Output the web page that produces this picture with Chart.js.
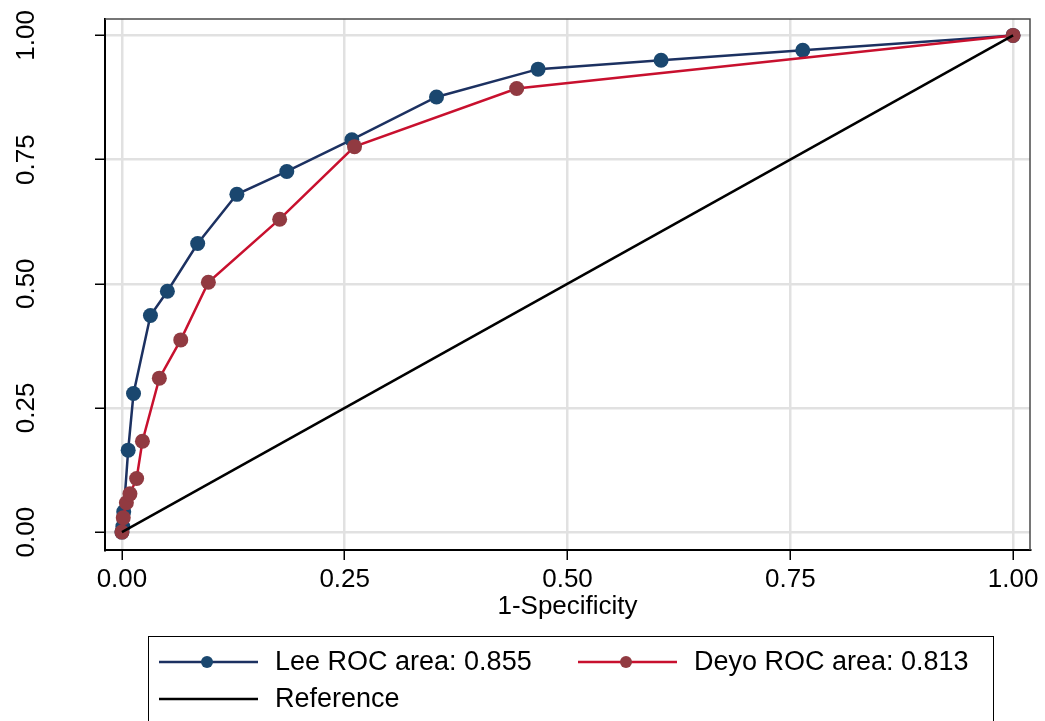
<!DOCTYPE html>
<html>
<head>
<meta charset="utf-8">
<script src="https://cdn.jsdelivr.net/npm/chart.js@4.4.0/dist/chart.umd.min.js"></script>
<style>
    body { margin: 0; background: #fff; }
    #wrap { width: 1045px; height: 721px; }
</style>
</head>
<body>
<div id="wrap"><canvas id="roc" width="1045" height="721"></canvas></div>
<script>
// ROC points (x = 1-specificity, y = sensitivity)
const leeX = [0, 0.001, 0.002, 0.007, 0.013, 0.032, 0.051, 0.085, 0.129, 0.185, 0.258, 0.353, 0.467, 0.605, 0.764, 1];
const leeY = [0, 0.011, 0.041, 0.165, 0.279, 0.436, 0.485, 0.581, 0.680, 0.726, 0.790, 0.876, 0.932, 0.950, 0.970, 1];
const deyoX = [0, 0.0015, 0.005, 0.009, 0.0165, 0.023, 0.042, 0.066, 0.097, 0.177, 0.261, 0.443, 1];
const deyoY = [0, 0.029, 0.059, 0.077, 0.108, 0.183, 0.310, 0.387, 0.503, 0.630, 0.776, 0.893, 1];
const refX = [0, 1];
const refY = [0, 1];

const xTicks = [0, 0.25, 0.5, 0.75, 1];
const yTicks = [0, 0.25, 0.5, 0.75, 1];
const seriesLabels = ['Lee ROC area: 0.855', 'Deyo ROC area: 0.813', 'Reference'];
const xTitle = '1-Specificity';

const FONT = 'Liberation Sans, Arial, sans-serif';

function toPoints(xs, ys) {
    return xs.map((x, i) => ({ x: x, y: ys[i] }));
}

// y tick labels are drawn turned 90 degrees, centred on each tick
const yLabelPlugin = {
    id: 'yLabels',
    afterDraw(chart) {
        const ctx = chart.ctx;
        const y = chart.scales.y;
        ctx.save();
        ctx.fillStyle = '#000';
        ctx.font = '26px ' + FONT;
        ctx.textAlign = 'center';
        ctx.textBaseline = 'alphabetic';
        yTicks.forEach(v => {
            ctx.save();
            ctx.translate(34, y.getPixelForValue(v));
            ctx.rotate(-Math.PI / 2);
            ctx.fillText(v.toFixed(2), 0, 0);
            ctx.restore();
        });
        ctx.restore();
    }
};

// top and right edges of the plot box
const framePlugin = {
    id: 'frame',
    afterDraw(chart) {
        const a = chart.chartArea;
        const ctx = chart.ctx;
        ctx.save();
        ctx.strokeStyle = '#4a4a4a';
        ctx.lineWidth = 1.5;
        ctx.beginPath();
        ctx.moveTo(a.left, a.top);
        ctx.lineTo(a.right, a.top);
        ctx.lineTo(a.right, a.bottom);
        ctx.stroke();
        ctx.restore();
    }
};

// boxed legend under the plot, two columns
const legendPlugin = {
    id: 'boxLegend',
    afterDraw(chart) {
        const ctx = chart.ctx;
        const sets = chart.data.datasets;
        const slots = [
            { x: 159, y: 662 },
            { x: 578, y: 662 },
            { x: 159, y: 699 }
        ];
        ctx.save();
        ctx.strokeStyle = '#000';
        ctx.lineWidth = 1;
        ctx.strokeRect(148.5, 636.5, 845, 100);

        ctx.font = '27px ' + FONT;
        ctx.textBaseline = 'middle';
        ctx.textAlign = 'left';
        sets.forEach((ds, i) => {
            const s = slots[i];
            ctx.strokeStyle = ds.borderColor;
            ctx.lineWidth = ds.borderWidth;
            ctx.beginPath();
            ctx.moveTo(s.x, s.y);
            ctx.lineTo(s.x + 99, s.y);
            ctx.stroke();
            if (ds.pointRadius > 0) {
                ctx.fillStyle = ds.pointBackgroundColor;
                ctx.beginPath();
                ctx.arc(s.x + 48, s.y, 6, 0, Math.PI * 2);
                ctx.fill();
            }
            ctx.fillStyle = '#000';
            ctx.fillText(seriesLabels[i], s.x + 116, s.y + 1);
        });
        ctx.restore();
    }
};

new Chart(document.getElementById('roc').getContext('2d'), {
    type: 'line',
    data: {
        datasets: [
            {
                label: seriesLabels[0],
                data: toPoints(leeX, leeY),
                borderColor: '#1c3161',
                borderWidth: 2.5,
                pointRadius: 7.5,
                pointBackgroundColor: '#1a476f',
                pointBorderWidth: 0,
                order: 2
            },
            {
                label: seriesLabels[1],
                data: toPoints(deyoX, deyoY),
                borderColor: '#c8102e',
                borderWidth: 2.5,
                pointRadius: 7.5,
                pointBackgroundColor: '#913a41',
                pointBorderWidth: 0,
                order: 1
            },
            {
                label: seriesLabels[2],
                data: toPoints(refX, refY),
                borderColor: '#000',
                borderWidth: 2.5,
                pointRadius: 0,
                order: 0
            }
        ]
    },
    options: {
        responsive: false,
        animation: false,
        layout: { padding: { top: 19, right: 15, bottom: 96, left: 0 } },
        plugins: {
            legend: { display: false },
            tooltip: { enabled: false }
        },
        scales: {
            x: {
                type: 'linear',
                min: -0.019,
                max: 1.019,
                afterBuildTicks: s => { s.ticks = xTicks.map(v => ({ value: v })); },
                afterFit: s => { s.height = 75; },
                ticks: {
                    color: '#000',
                    font: { family: FONT, size: 26, lineHeight: 1.2 },
                    padding: 4,
                    maxRotation: 0,
                    callback: v => Number(v).toFixed(2)
                },
                grid: { color: '#e1e1e1', lineWidth: 2.5, tickColor: '#000', tickWidth: 1.5, tickLength: 10 },
                border: { color: '#000', width: 2 },
                title: {
                    display: true,
                    text: xTitle,
                    color: '#000',
                    font: { family: FONT, size: 26, lineHeight: 1.2 },
                    padding: { top: 0, bottom: 3 }
                }
            },
            y: {
                type: 'linear',
                min: -0.036,
                max: 1.033,
                afterBuildTicks: s => { s.ticks = yTicks.map(v => ({ value: v })); },
                afterFit: s => { s.width = 105; },
                ticks: { display: false },
                grid: { color: '#e1e1e1', lineWidth: 2.5, tickColor: '#000', tickWidth: 1.5, tickLength: 10 },
                border: { color: '#000', width: 2 }
            }
        }
    },
    plugins: [yLabelPlugin, framePlugin, legendPlugin]
});
</script>
</body>
</html>
